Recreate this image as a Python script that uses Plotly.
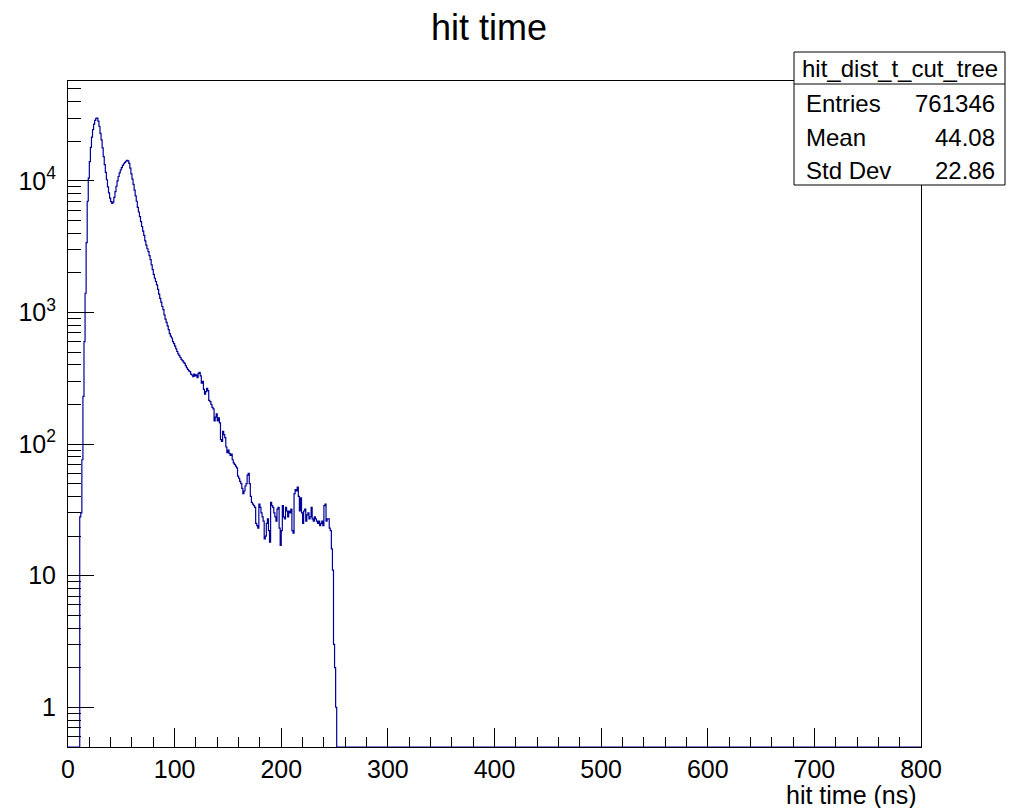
import plotly.graph_objects as go

# ---------------------------------------------------------------------------
# Histogram contents: 800 bins of 1 ns between 0 and 800 ns.
# Only bins 11..251 are filled; every other bin is empty.
# ---------------------------------------------------------------------------
n_bins = 800
t_low, t_high = 0.0, 800.0
first_filled_bin = 11

filled_counts = [
    28, 30, 76, 230, 600, 1400, 3400, 7000, 10500, 14000,            # 11-20
    18000, 21500, 24500, 27000, 28800, 29900, 30000, 28500, 26000, 23000,  # 21-30
    20500, 17800, 15300, 13300, 11600, 10200, 9000, 8100, 7400, 6950,     # 31-40
    6750, 6900, 7500, 8300, 9100, 10000, 10800, 11500, 12100, 12600,      # 41-50
    13100, 13500, 13800, 14100, 14300, 14200, 13600, 12500, 11300, 10300,  # 51-60
    9400, 8500, 7700, 7000, 6300, 5800, 5350, 4900, 4500, 4150,           # 61-70
    3850, 3500, 3250, 3050, 2900, 2700, 2520, 2300, 2120, 1950,           # 71-80
    1820, 1720, 1620, 1500, 1380, 1280, 1200, 1110, 1050, 960,            # 81-90
    890, 840, 790, 740, 690, 660, 640, 600, 580, 555,                     # 91-100
    530, 505, 485, 470, 455, 440, 430, 420, 410, 395,                     # 101-110
    380, 370, 360, 355, 340, 335, 325, 340, 330, 336,                     # 111-120
    320, 345, 350, 330, 290, 300, 260, 240, 250, 265,                     # 121-130
    255, 215, 210, 200, 190, 185, 150, 160, 170, 150,                     # 131-140
    158, 145, 108, 105, 125, 118, 112, 95, 86, 90,                        # 141-150
    85, 82, 84, 76, 72, 70, 68, 66, 57, 55,                               # 151-160
    52, 50, 46, 42, 44, 48, 50, 58, 60, 50,                               # 161-170
    40, 36, 35, 34, 33, 25, 24, 23, 35, 33,                               # 171-180
    30, 28, 26, 19, 20, 25, 27, 22, 18, 36,                               # 181-190
    34, 33, 30, 28, 26, 32, 33, 23, 17, 22,                               # 191-200
    34, 28, 27, 33, 31, 28, 31, 30, 32, 22,                               # 201-210
    21, 42, 45, 44, 47, 40, 31, 39, 30, 25,                               # 211-220
    31, 32, 26, 29, 30, 27, 28, 33, 27, 26,                               # 221-230
    28, 27, 26, 25, 26, 24, 25, 26, 24, 34,                               # 231-240
    35, 26, 27, 27, 23, 22, 16, 11, 3, 2,                                 # 241-250
    1,                                                                    # 251
]

stats_title = "hit_dist_t_cut_tree"
stats_labels = ["Entries", "Mean", "Std Dev"]
stats_values = ["761346", "44.08", "22.86"]

x_tick_values = [0, 100, 200, 300, 400, 500, 600, 700, 800]
y_tick_values = [1, 10, 100, 1000, 10000]
y_tick_text = ["1", "10", "10<sup>2</sup>", "10<sup>3</sup>", "10<sup>4</sup>"]

# ---------------------------------------------------------------------------
# Build the full bin array and the step outline
# ---------------------------------------------------------------------------
bin_w = (t_high - t_low) / n_bins
counts = [0] * n_bins
for i, c in enumerate(filled_counts):
    counts[first_filled_bin + i] = c

y_log_min, y_log_max = -0.302, 4.759
y_floor = 10 ** y_log_min  # empty bins sit on the bottom of the frame

edges = [t_low + i * bin_w for i in range(n_bins + 1)]
step_x = edges[:-1] + [edges[-1]]
shown = [c if c > 0 else y_floor for c in counts]
step_y = shown + [shown[-1]]

# minor ticks of the log axis
y_minor = [m * 10 ** e for e in range(-1, 5) for m in range(2, 10)]
y_minor = [v for v in y_minor if y_floor < v < 10 ** y_log_max and v not in y_tick_values]

# ---------------------------------------------------------------------------
# Layout geometry (pixels)
# ---------------------------------------------------------------------------
W, H = 1029, 808
L, R, T, B = 68, 108, 81, 61
pw, ph = W - L - R, H - T - B

def px_x(x):
    return (x - L) / pw

def px_y(y):
    return (H - B - y) / ph

FONT = "Liberation Sans, Arial, Helvetica, sans-serif"
line_col = "#000099"

fig = go.Figure()
fig.add_trace(go.Scatter(
    x=step_x, y=step_y, mode="lines",
    line=dict(color=line_col, width=1.2, shape="hv"),
    hoverinfo="skip", showlegend=False,
))

fig.update_layout(
    width=W, height=H,
    margin=dict(l=L, r=R, t=T, b=B, pad=0),
    paper_bgcolor="white", plot_bgcolor="white",
    font=dict(family=FONT, color="black"),
    showlegend=False,
    title=dict(text="hit time", x=489 / W, xref="container",
               xanchor="center", y=1 - 27 / H, yanchor="middle",
               font=dict(size=36, family=FONT, color="black")),
    xaxis=dict(
        range=[t_low, t_high], tickmode="array", tickvals=x_tick_values,
        ticks="inside", ticklen=19, tickwidth=1, tickcolor="black",
        showline=True, linecolor="black", linewidth=1, mirror=True,
        showgrid=False, zeroline=False,
        tickfont=dict(size=25, family=FONT, color="black"),
        minor=dict(ticks="inside", ticklen=10, tickwidth=1, tickcolor="black",
                   dtick=20, tick0=0, showgrid=False),
    ),
    yaxis=dict(
        type="log", range=[y_log_min, y_log_max],
        tickmode="array", tickvals=y_tick_values, ticktext=y_tick_text,
        ticks="inside", ticklen=26, tickwidth=1, tickcolor="black",
        showline=True, linecolor="black", linewidth=1, mirror=True,
        showgrid=False, zeroline=False,
        tickfont=dict(size=25, family=FONT, color="black"),
        ticklabelstandoff=6,
        minor=dict(ticks="inside", ticklen=13, tickwidth=1, tickcolor="black",
                   tickvals=y_minor, showgrid=False),
    ),
)

# statistics box
box_l, box_r, box_t, box_b, box_sep = 794, 1005, 52, 185, 84
fig.add_shape(type="rect", xref="paper", yref="paper",
              x0=px_x(box_l), x1=px_x(box_r), y0=px_y(box_b), y1=px_y(box_t),
              line=dict(color="black", width=1), fillcolor="white", layer="above")
fig.add_shape(type="line", xref="paper", yref="paper",
              x0=px_x(box_l), x1=px_x(box_r), y0=px_y(box_sep), y1=px_y(box_sep),
              line=dict(color="black", width=1), layer="above")

fig.add_annotation(text=stats_title, xref="paper", yref="paper",
                   x=px_x((box_l + box_r) / 2), y=px_y(69),
                   xanchor="center", yanchor="middle", showarrow=False,
                   font=dict(size=24, family=FONT, color="black"))
row_y = [103, 137, 171]
for lab, val, yy in zip(stats_labels, stats_values, row_y):
    fig.add_annotation(text=lab, xref="paper", yref="paper",
                       x=px_x(804), y=px_y(yy), xanchor="left", yanchor="middle",
                       showarrow=False, font=dict(size=24, family=FONT, color="black"))
    fig.add_annotation(text=val, xref="paper", yref="paper",
                       x=px_x(997), y=px_y(yy), xanchor="right", yanchor="middle",
                       showarrow=False, font=dict(size=24, family=FONT, color="black"))

# x-axis title, right-aligned at the end of the axis
fig.add_annotation(text="hit time (ns)", xref="paper", yref="paper",
                   x=px_x(919), y=px_y(795), xanchor="right", yanchor="middle",
                   showarrow=False, font=dict(size=25, family=FONT, color="black"))

fig.write_html("out.html")
